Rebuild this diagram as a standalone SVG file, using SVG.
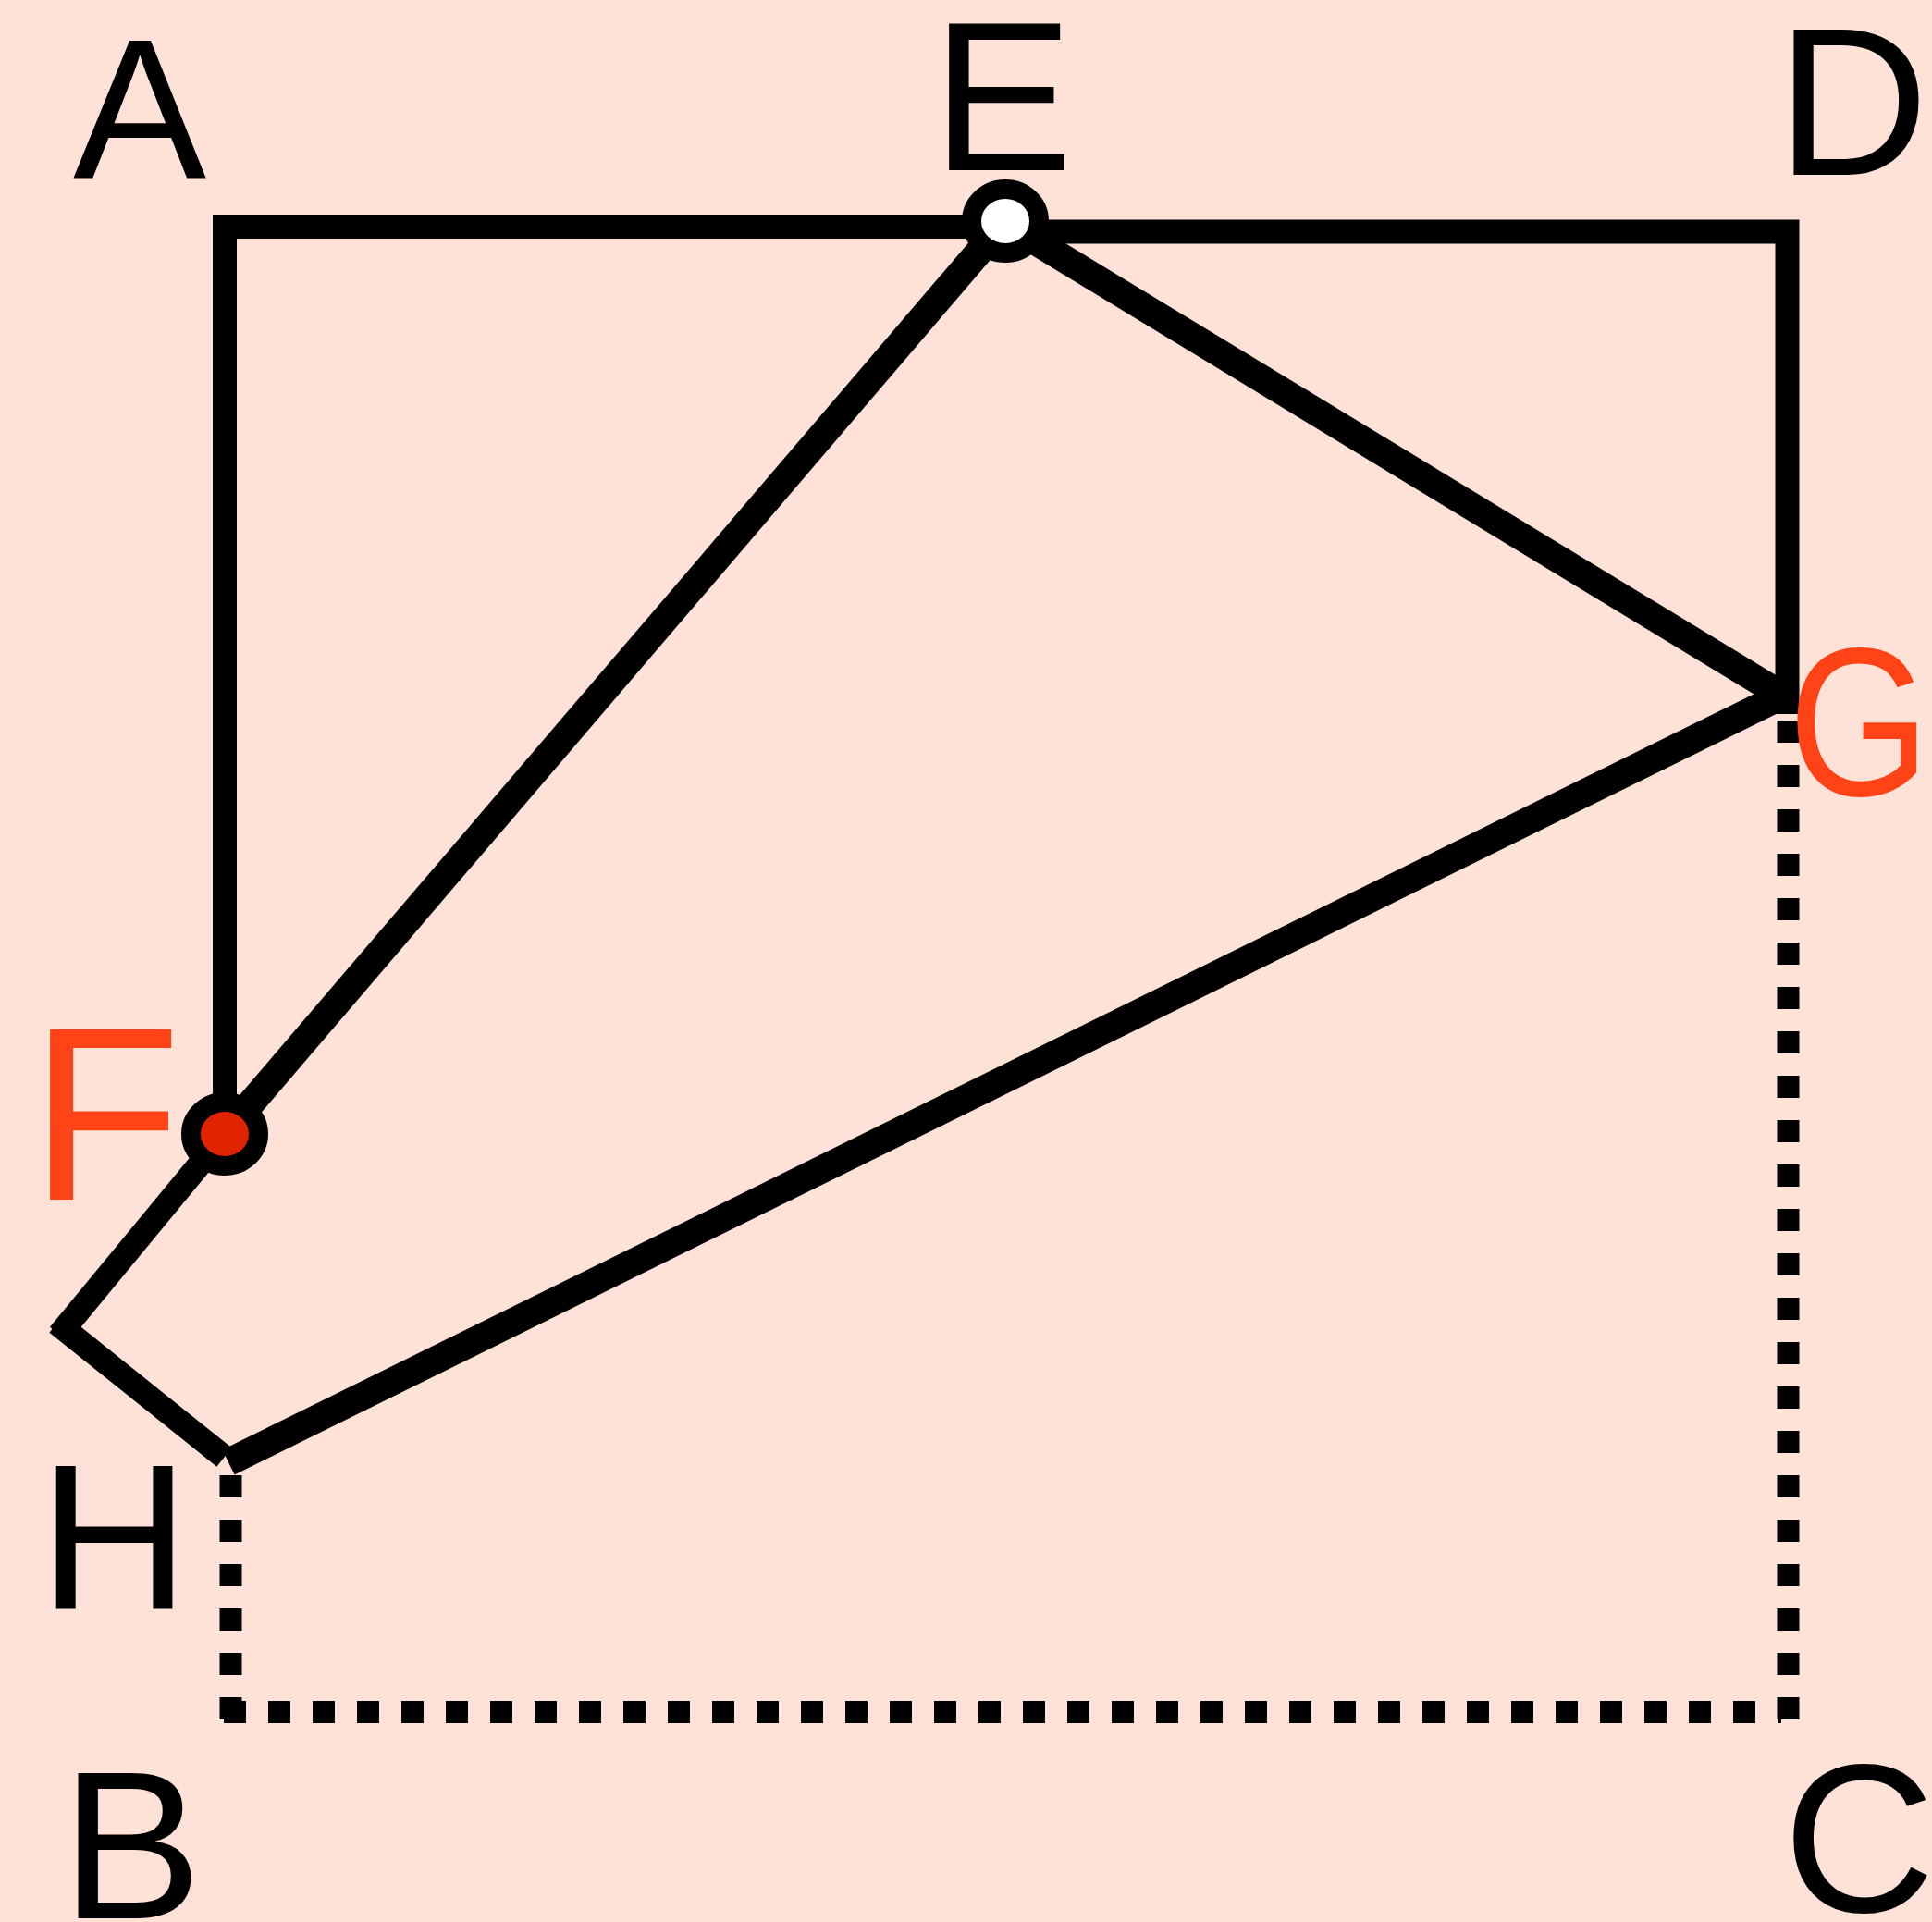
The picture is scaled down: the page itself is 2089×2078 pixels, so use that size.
<svg xmlns="http://www.w3.org/2000/svg" width="2089" height="2078" viewBox="0 0 2089 2078">
  <style>
    .ln { fill: none; stroke: #000; stroke-width: 26; stroke-linecap: butt; stroke-linejoin: miter; }
    .diag { stroke-width: 30; }
    .dot { fill: none; stroke: #000; stroke-width: 24; stroke-dasharray: 24 24; stroke-linecap: butt; }
    .node { stroke: #000; stroke-width: 21; }
    .lbl { font-family: "Liberation Sans", Arial, sans-serif; fill: #000; text-anchor: middle; }
    .red { fill: #FF4317; }
  </style>
  <rect x="0" y="0" width="2089" height="2078" fill="#FEE2D7"/>
  <g id="connectors">
    <path class="ln" d="M1060,245 H243 V1200"/>
    <path class="ln" d="M1110,250.5 H1932.5 V772"/>
    <path class="ln diag" d="M1087,239 L243,1226"/>
    <path class="ln diag" d="M1100,249 L1936,757"/>
    <path class="ln diag" d="M1925,753 L247,1581"/>
    <path class="ln" d="M243,1226 L64,1443"/>
    <path class="ln" d="M61.5,1430.5 L242.5,1575.5"/>
    <path class="dot" d="M249.5,1595 V1860"/>
    <path class="dot" d="M242,1851 H1926"/>
    <path class="dot" d="M1933.5,779 V1859"/>
  </g>
  <g id="node-E">
    <ellipse class="node" cx="1087" cy="239" rx="36.5" ry="34.5" fill="#FFFFFF"/>
  </g>
  <g id="node-F">
    <ellipse class="node" cx="243" cy="1226" rx="36.5" ry="34.5" fill="#E02400"/>
  </g>
  <g id="labels">
    <text id="label-A" class="lbl" x="151" y="192" font-size="216">A</text>
    <text id="label-E" class="lbl" x="1084" y="184" font-size="230">E</text>
    <text id="label-D" class="lbl" x="2003" y="189" font-size="228">D</text>
    <text id="label-F" class="lbl red" x="114" y="1297" font-size="268">F</text>
    <text id="label-G" class="lbl red" transform="translate(2087,860) scale(0.865,1)" x="0" y="0" font-size="228" style="text-anchor:end">G</text>
    <text id="label-H" class="lbl" x="123.5" y="1740" font-size="225">H</text>
    <text id="label-B" class="lbl" x="142" y="2074" font-size="229">B</text>
    <text id="label-C" class="lbl" x="2010" y="2067" font-size="228">C</text>
  </g>
</svg>
